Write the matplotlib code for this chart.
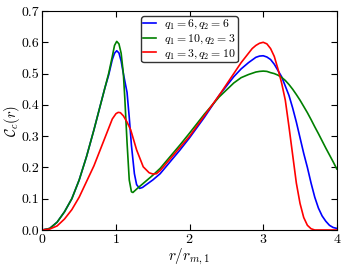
import numpy as np
import matplotlib
matplotlib.use('Agg')
import matplotlib.pyplot as plt

plt.rcParams['font.family'] = 'serif'
plt.rcParams['font.serif'] = ['cmr10', 'DejaVu Serif']
plt.rcParams['mathtext.fontset'] = 'cm'
plt.rcParams['axes.formatter.use_mathtext'] = True

# --- datos ---
r_blue = [0, 0.1, 0.2, 0.3, 0.4, 0.5, 0.6, 0.7, 0.8, 0.85, 0.9, 0.95, 0.98, 1.01, 1.04,
          1.07, 1.1, 1.15, 1.18, 1.21, 1.25, 1.28, 1.32, 1.36, 1.4, 1.5, 1.6, 1.87, 2.0,
          2.2, 2.4, 2.6, 2.7, 2.8, 2.9, 2.95, 3.0, 3.05, 3.1, 3.15, 3.2, 3.25, 3.3, 3.35,
          3.4, 3.45, 3.5, 3.55, 3.6, 3.65, 3.7, 3.75, 3.8, 3.85, 3.9, 3.95, 4.0]
c_blue = [0, 0.005, 0.025, 0.058, 0.10, 0.16, 0.235, 0.32, 0.41, 0.455, 0.495, 0.545,
          0.565, 0.573, 0.566, 0.54, 0.50, 0.44, 0.36, 0.27, 0.18, 0.145, 0.133, 0.136,
          0.143, 0.16, 0.18, 0.256, 0.295, 0.36, 0.43, 0.49, 0.515, 0.535, 0.552, 0.556,
          0.557, 0.553, 0.545, 0.53, 0.51, 0.49, 0.46, 0.43, 0.39, 0.345, 0.295, 0.245,
          0.20, 0.15, 0.105, 0.07, 0.045, 0.028, 0.015, 0.008, 0.005]

r_green = [0, 0.1, 0.2, 0.3, 0.4, 0.5, 0.6, 0.7, 0.8, 0.85, 0.9, 0.95, 0.98, 1.01, 1.04,
           1.07, 1.1, 1.12, 1.15, 1.18, 1.21, 1.23, 1.3, 1.4, 1.5, 1.6, 1.87, 2.0, 2.2,
           2.4, 2.6, 2.7, 2.8, 2.9, 2.95, 3.0, 3.05, 3.1, 3.15, 3.2, 3.25, 3.3, 3.35,
           3.4, 3.45, 3.5, 3.55, 3.6, 3.65, 3.7, 3.75, 3.8, 3.85, 3.9, 3.95, 4.0]
c_green = [0, 0.005, 0.025, 0.058, 0.10, 0.16, 0.235, 0.32, 0.41, 0.455, 0.50, 0.555,
           0.59, 0.603, 0.595, 0.565, 0.50, 0.42, 0.28, 0.16, 0.122, 0.12, 0.135, 0.155,
           0.175, 0.197, 0.272, 0.31, 0.37, 0.425, 0.47, 0.487, 0.497, 0.505, 0.507,
           0.508, 0.507, 0.503, 0.50, 0.495, 0.488, 0.478, 0.465, 0.45, 0.433, 0.415,
           0.395, 0.375, 0.353, 0.33, 0.308, 0.285, 0.262, 0.24, 0.218, 0.195]

r_red = [0, 0.1, 0.2, 0.3, 0.4, 0.5, 0.6, 0.7, 0.8, 0.9, 0.95, 1.0, 1.03, 1.06, 1.1, 1.15,
         1.2, 1.28, 1.37, 1.45, 1.5, 1.55, 1.6, 1.8, 2.0, 2.2, 2.4, 2.6, 2.7, 2.8, 2.85,
         2.9, 2.95, 3.0, 3.05, 3.1, 3.15, 3.2, 3.25, 3.3, 3.35, 3.4, 3.45, 3.5, 3.55,
         3.6, 3.65, 3.7, 3.8, 4.0]
c_red = [0, 0.003, 0.013, 0.035, 0.065, 0.105, 0.155, 0.205, 0.265, 0.325, 0.355, 0.372,
         0.376, 0.375, 0.365, 0.345, 0.32, 0.256, 0.202, 0.183, 0.179, 0.18, 0.19, 0.245,
         0.30, 0.365, 0.43, 0.50, 0.535, 0.565, 0.58, 0.59, 0.597, 0.60, 0.595, 0.58,
         0.555, 0.515, 0.47, 0.415, 0.33, 0.24, 0.15, 0.085, 0.04, 0.015, 0.004, 0.0,
         0.0, 0.0]

etiquetas = [r'$q_1=6, q_2=6$', r'$q_1=10, q_2=3$', r'$q_1=3, q_2=10$']

fig = plt.figure(figsize=(3.46, 2.69), dpi=100)
ax = fig.add_axes([0.1225, 0.145, 0.851, 0.814])

ax.plot(r_blue, c_blue, color='b', lw=1.2, label=etiquetas[0])
ax.plot(r_green, c_green, color='g', lw=1.2, label=etiquetas[1])
ax.plot(r_red, c_red, color='r', lw=1.2, label=etiquetas[2])

ax.set_xlim(0, 4)
ax.set_ylim(0, 0.7)
ax.set_xticks([0, 1, 2, 3, 4])
ax.set_yticks(np.arange(0, 0.71, 0.1))
ax.set_yticklabels(['%.1f' % v for v in np.arange(0, 0.71, 0.1)])
ax.tick_params(direction='in', top=True, right=True, labelsize=10, length=4, width=0.8, pad=2)
ax.set_xlabel(r'$r/r_{m,1}$', fontsize=11, labelpad=1)
ax.set_ylabel(r'$\mathcal{C}_c(r)$', fontsize=10.5, labelpad=0)

leg = ax.legend(loc='upper center', fontsize=8.5, handlelength=1.1, handletextpad=0.7,
                borderpad=0.15, labelspacing=0.1, borderaxespad=0.45, fancybox=True,
                framealpha=1, edgecolor='0.2')

fig.savefig('out.png', dpi=100)
